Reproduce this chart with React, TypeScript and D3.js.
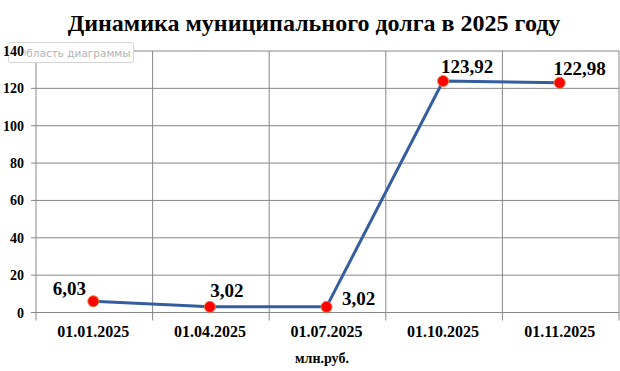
import React from "react";
import * as d3 from "d3";

const categories = ["01.01.2025", "01.04.2025", "01.07.2025", "01.10.2025", "01.11.2025"];
const values = [6.03, 3.02, 3.02, 123.92, 122.98];
const labels = ["6,03", "3,02", "3,02", "123,92", "122,98"];
const yTicks = [0, 20, 40, 60, 80, 100, 120, 140];
const title = "Динамика муниципального долга в 2025 году";
const axisTitle = "млн.руб.";

const SERIF = "Liberation Serif, Times New Roman, DejaVu Serif, serif";

export default function App() {
  const W = 620, H = 371;
  const left = 36, right = 619, top = 51, bottom = 312.5;
  const x = d3.scaleBand<string>().domain(categories).range([left, right]).padding(0);
  const y = d3.scaleLinear().domain([0, 140]).range([bottom, top]);
  const cx = (c: string) => (x(c) ?? 0) + x.bandwidth() / 2 - 1;
  const line = d3.line<number>().x((_, i) => cx(categories[i])).y((d) => y(d));
  const grid = "#878787";
  const labelOffsets: [number, number][] = [
    [-24, -6],
    [17, -10],
    [32, -2],
    [24, -8],
    [20, -8],
  ];
  const serif = { fontFamily: SERIF, fontWeight: 700 } as React.CSSProperties;
  return (
    <svg width={W} height={H} style={{ position: "absolute", left: 0, top: 0, background: "#fff" }}>
      <rect width={W} height={H} fill="#fff" />
      <text x={314} y={31} textAnchor="middle" fontSize={24} style={serif} fill="#000">{title}</text>
      {yTicks.map((t) => (
        <line key={t} x1={left - 5} x2={right} y1={y(t)} y2={y(t)} stroke={grid} strokeWidth={1} />
      ))}
      {categories.map((c) => (
        <line key={c} x1={x(c)} x2={x(c)} y1={top} y2={bottom + 8} stroke={grid} strokeWidth={1} />
      ))}
      <line x1={right} x2={right} y1={top} y2={bottom + 8} stroke={grid} strokeWidth={1} />
      {/* Excel tooltip artifact */}
      <rect x={8.5} y={42.5} width={125} height={20} rx={2} fill="#fff" stroke="#d5d5d5" />
      <text x={18} y={56.5} style={{ fontFamily: "DejaVu Sans, sans-serif" }} fontSize={10.5} fill="#b4b4b4">Область диаграммы</text>
      <rect x={8.5} y={y(140) - 8} width={16} height={14} fill="#fff" />
      {yTicks.map((t) => (
        <text key={t} x={24} y={y(t) + 5} textAnchor="end" fontSize={14} style={serif} fill="#000">{t}</text>
      ))}
      {categories.map((c) => (
        <text key={c} x={cx(c)} y={337} textAnchor="middle" fontSize={16} style={serif} fill="#000">{c}</text>
      ))}
      <text x={322} y={363} textAnchor="middle" fontSize={14} style={serif} fill="#000">{axisTitle}</text>
      <path d={line(values) ?? ""} fill="none" stroke="#355ea1" strokeWidth={3} strokeLinejoin="round" />
      {values.map((v, i) => (
        <circle key={i} cx={cx(categories[i])} cy={y(v)} r={5.5} fill="#ff0000" stroke="#f07a3a" strokeWidth={1} />
      ))}
      {values.map((v, i) => (
        <text key={i} x={cx(categories[i]) + labelOffsets[i][0]} y={y(v) + labelOffsets[i][1]}
          textAnchor="middle" fontSize={19} style={serif} fill="#000">{labels[i]}</text>
      ))}
    </svg>
  );
}
